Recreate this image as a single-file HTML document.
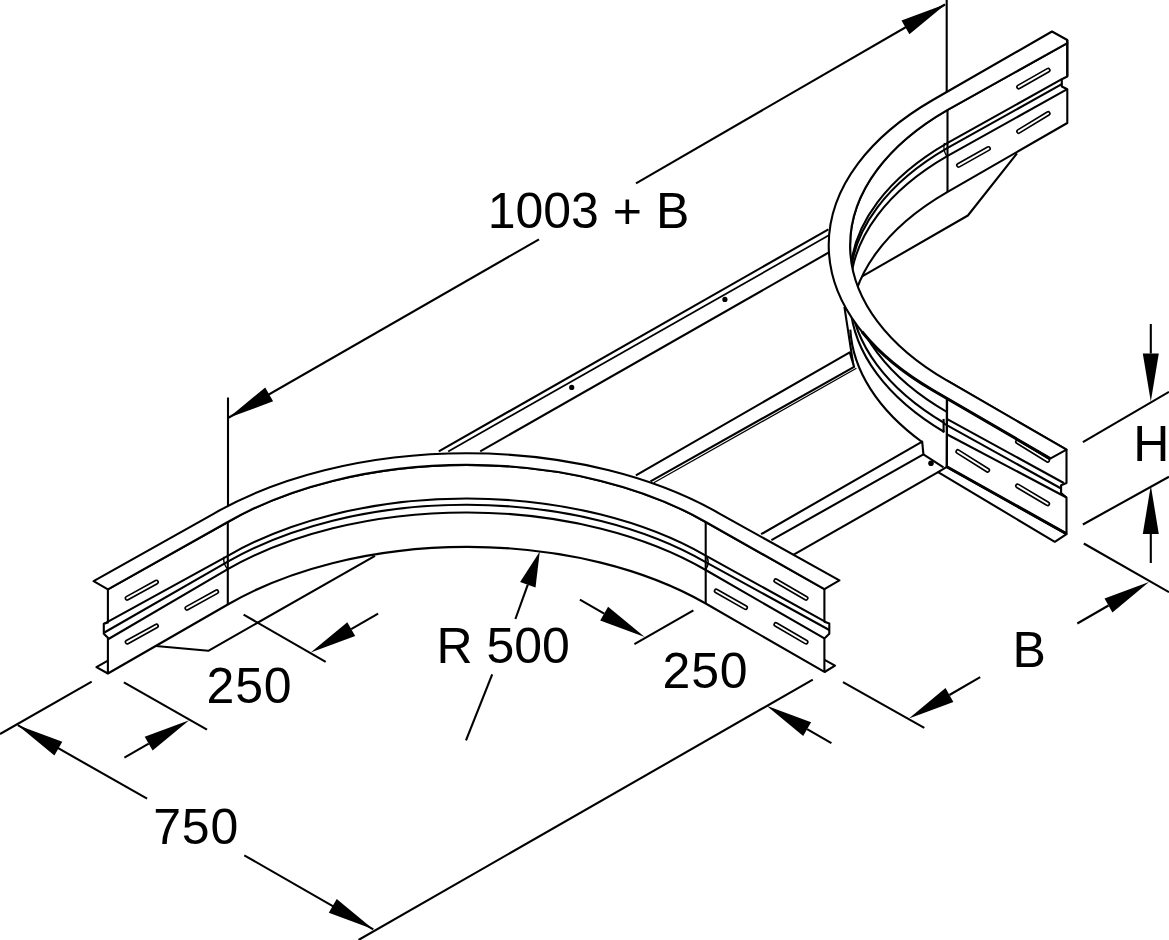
<!DOCTYPE html>
<html><head><meta charset="utf-8"><title>Drawing</title>
<style>html,body{margin:0;padding:0;background:#fff}svg{display:block}
text{font-family:"Liberation Sans",sans-serif;fill:#000;stroke:none}</style></head>
<body><svg width="1169" height="940" viewBox="0 0 1169 940">
<rect width="1169" height="940" fill="#fff"/>
<g fill="none" stroke="#000" stroke-width="2.1" stroke-linecap="butt" stroke-linejoin="round">
<path d="M228 397.5L228 603"/>
<path d="M946.7 0L946.7 192"/>
<path d="M228 418L539 239.3"/>
<path d="M636 183.3L945 4.5"/>
<path d="M228.6 417.8L265.2 387.5L273.1 401.3Z" fill="#000" stroke="none"/>
<path d="M946 4L909.4 34.3L901.5 20.5Z" fill="#000" stroke="none"/>
<path d="M91.7 681.7L0 734"/>
<path d="M812.8 679.6L358.5 940"/>
<path d="M17.8 725.2L147.1 798.7"/>
<path d="M244.3 855.3L373.3 929.3"/>
<path d="M17.8 725.2L62.3 741.7L54.4 755.5Z" fill="#000" stroke="none"/>
<path d="M373.3 929.3L328.8 912.8L336.7 899Z" fill="#000" stroke="none"/>
<path d="M123.9 682.4L207 729.6"/>
<path d="M189.2 720.3L152.6 750.6L144.7 736.8Z" fill="#000" stroke="none"/>
<path d="M148.7 743.7L124.4 757.7"/>
<path d="M243.6 614.6L325.7 661.9"/>
<path d="M310.7 652.6L347.3 622.3L355.2 636.1Z" fill="#000" stroke="none"/>
<path d="M351.2 629.2L378.1 613.7"/>
<path d="M539.8 551.5L535.5 587.5L520.1 581.9Z" fill="#000" stroke="none"/>
<path d="M527.8 584.7L515.4 619"/>
<path d="M492.2 674.3L466 740.3"/>
<path d="M843 682.1L924.3 727.9"/>
<path d="M908.9 718.4L945.5 688.1L953.4 701.9Z" fill="#000" stroke="none"/>
<path d="M949.4 695L980.2 677.2"/>
<path d="M1083.8 543.5L1169 592.2"/>
<path d="M1149 582.1L1112.4 612.4L1104.5 598.6Z" fill="#000" stroke="none"/>
<path d="M1108.5 605.5L1077.3 623.5"/>
<path d="M766.6 705.7L811.1 722.2L803.2 736Z" fill="#000" stroke="none"/>
<path d="M807.1 729.1L831.4 743.1"/>
<path d="M644.7 637L600.2 620.5L608.1 606.7Z" fill="#000" stroke="none"/>
<path d="M604.2 613.6L579.9 599.6"/>
<path d="M693.4 610.3L634.4 644.2"/>
<path d="M1082.9 442.1L1169 391.8"/>
<path d="M1082.9 524.5L1169 476.7"/>
<path d="M1150.8 401.5L1142.8 353.5L1158.8 353.5Z" fill="#000" stroke="none"/>
<path d="M1150.8 353.5L1150.8 324"/>
<path d="M1150.8 485.5L1158.8 534L1142.8 534Z" fill="#000" stroke="none"/>
<path d="M1150.8 534L1150.8 563"/>
<path d="M438.8 451.4L828.4 229.4"/>
<path d="M448.2 451.4L830.2 234.6" stroke-width="1.7"/>
<path d="M480.2 451.4L828.4 252.7"/>
<circle cx="571.7" cy="387.4" r="2.6" fill="#000" stroke="none"/>
<circle cx="724.9" cy="299.4" r="2.6" fill="#000" stroke="none"/>
<path d="M1017 153.4L967.9 215.5L861.7 276.7"/>
<path d="M1067.3 43.2L947.2 110.1L947.2 110.1A331.4 191.3 0 0 0 850.1 245.4L850.1 327.4L850.1 327.4A331.4 191.3 0 0 1 947.2 192.1L1067.3 123L1067.3 89.2L1061.8 86.5L1061.8 79.2L1067.3 76.5Z" fill="#fff"/>
<path d="M1061.8 79.2L947.2 143.1L947.2 143.1A331.4 191.3 0 0 0 850.3 271.7"/>
<path d="M1061.8 84.2L947.2 148.1L947.2 148.1A331.4 191.3 0 0 0 850.3 276.7"/>
<path d="M1067.3 89.2L947.2 156.1L947.2 156.1A331.4 191.3 0 0 0 850.3 284.7"/>
<path d="M844.4 306.8L853.3 364.9L850.6 332.9A331.4 191.3 0 0 0 947.2 458.2L946.8 466.8L946.8 398L932.8 390.2A355.4 205.2 0 0 1 836.5 287.8Z" fill="#fff" stroke="none"/>
<path d="M844.4 306.8L853.3 364.9"/>
<path d="M850.3 329.6A331.4 191.3 0 0 0 922.1 442"/>
<path d="M850.3 283.6A331.4 191.3 0 0 0 947.2 412.2"/>
<path d="M850.3 296.1A331.4 191.3 0 0 0 944.3 423"/>
<path d="M850.3 305.1A331.4 191.3 0 0 0 944.3 432"/>
<path d="M938.1 472.2L1054.8 541.8L1066.5 534.2L946.8 466.8Z" fill="#fff"/>
<path d="M947.2 380.7L1066.5 449.6L1066.5 483L1061.1 485.2L1061.1 493L1066.5 497.5L1066.5 533.7L946.8 466.8Z" fill="#fff"/>
<path d="M946.8 466.8L1066.5 533.7" stroke-width="3"/>
<path d="M946.8 418.9L1063.8 483"/>
<path d="M943.6 423.4L1061.1 488.5"/>
<path d="M946.8 434.2L1066.5 497.5"/>
<path d="M943.6 418.9L943.6 432.4"/>
<path d="M1017.6 485.9L1047.6 503.8" stroke-width="5.2" stroke-linecap="round"/>
<path d="M1017.6 485.9L1047.6 503.8" stroke="#fff" stroke-width="1.9" stroke-linecap="round"/>
<path d="M957.9 451.6L987.6 470.2" stroke-width="5.2" stroke-linecap="round"/>
<path d="M957.9 451.6L987.6 470.2" stroke="#fff" stroke-width="1.9" stroke-linecap="round"/>
<path d="M1017.6 441.7L1047.6 460.3" stroke-width="5.2" stroke-linecap="round"/>
<path d="M1017.6 441.7L1047.6 460.3" stroke="#fff" stroke-width="1.9" stroke-linecap="round"/>
<path d="M635.9 475.4L849.7 352.3L854.1 366.9L650.5 481.4" fill="#fff"/>
<path d="M653.8 482.8L856.4 368.3" stroke-width="1.3"/>
<path d="M761.1 534.2L922.2 441.7L923.4 454.4L771.4 540.2" fill="#fff"/>
<path d="M923.4 454.4L943.5 467.4"/>
<path d="M793.7 554.7L938.1 472.2"/>
<circle cx="931" cy="463.3" r="2.8" fill="#000" stroke="none"/>
<path d="M1052 31.5L932.8 100L932.8 100A355.4 205.2 0 0 0 932.8 390.2L1050.2 458.6L1066.5 449.6L947.2 380.7L947.2 380.7A331.4 191.3 0 0 1 947.2 110.1L1067.3 43.2L1067.3 40Z" fill="#fff"/>
<path d="M1067.3 40L1067.3 76.5"/>
<path d="M862 331.8A355.4 205.2 0 0 0 932.8 390.2L1050.2 458.6" stroke-width="3"/>
<path d="M947.5 110.1L947.5 192"/>
<path d="M946.8 398L946.8 466.8"/>
<path d="M944.5 143Q942.5 150 947 156.5" stroke-width="1.4"/>
<path d="M1018.7 86.9L1048.1 70.2" stroke-width="5.2" stroke-linecap="round"/>
<path d="M1018.7 86.9L1048.1 70.2" stroke="#fff" stroke-width="1.9" stroke-linecap="round"/>
<path d="M1018.7 131.4L1048.1 113.5" stroke-width="5.2" stroke-linecap="round"/>
<path d="M1018.7 131.4L1048.1 113.5" stroke="#fff" stroke-width="1.9" stroke-linecap="round"/>
<path d="M958.6 165.3L988.4 148.6" stroke-width="5.2" stroke-linecap="round"/>
<path d="M958.6 165.3L988.4 148.6" stroke="#fff" stroke-width="1.9" stroke-linecap="round"/>
<path d="M155.8 646L208.3 650.8L375 555.8"/>
<path d="M107.9 673.5L96.4 667.1L107.9 660.6" fill="#fff"/>
<path d="M824.6 672L835 665.6L824.6 659.8" fill="#fff"/>
<path d="M107.9 589.3L227.8 522A337.9 195.1 0 0 1 705.7 522L824.4 589.1L824.4 589.1L824.4 621.7L829.3 623.5L829.3 633.8L824.4 638.4L824.4 671.9L824.4 671.9L705.7 603.5A337.9 195.1 0 0 0 227.8 604.5L107.9 673.5L107.9 673.5L107.9 637.8L103.8 633.7L103.8 623.8L107.9 622.6L107.9 589.3Z" fill="#fff"/>
<path d="M104.4 623.6L227.8 555.8A337.9 195.1 0 0 1 705.7 555.6L826 622.2"/>
<path d="M104.4 632.5L227.8 561.7A337.9 195.1 0 0 1 705.7 562.1L829.3 630"/>
<path d="M108.5 639L227.8 569.2A337.9 195.1 0 0 1 705.7 570L824.4 638.4"/>
<path d="M93.6 581.1L213.5 513.8A358.1 206.7 0 0 1 719.9 513.8L839.4 580.4L824.4 589.1L824.4 589.1L705.7 522A337.9 195.1 0 0 0 227.8 522L107.9 589.3Z" fill="#fff"/>
<path d="M227.8 522L227.8 604.5"/>
<path d="M705.7 522L705.7 603.5"/>
<path d="M224.2 556.7Q222.5 562.5 227.5 569.2" stroke-width="1.4"/>
<path d="M706 556Q710.5 562 706 569" stroke-width="1.4"/>
<path d="M127.2 598.2L156.4 582.1" stroke-width="5.2" stroke-linecap="round"/>
<path d="M127.2 598.2L156.4 582.1" stroke="#fff" stroke-width="1.9" stroke-linecap="round"/>
<path d="M127.2 642.1L156.4 626" stroke-width="5.2" stroke-linecap="round"/>
<path d="M127.2 642.1L156.4 626" stroke="#fff" stroke-width="1.9" stroke-linecap="round"/>
<path d="M187 608.2L216.6 591.8" stroke-width="5.2" stroke-linecap="round"/>
<path d="M187 608.2L216.6 591.8" stroke="#fff" stroke-width="1.9" stroke-linecap="round"/>
<path d="M775.9 580.8L806 598.3" stroke-width="5.2" stroke-linecap="round"/>
<path d="M775.9 580.8L806 598.3" stroke="#fff" stroke-width="1.9" stroke-linecap="round"/>
<path d="M775.9 624.5L806 642.1" stroke-width="5.2" stroke-linecap="round"/>
<path d="M775.9 624.5L806 642.1" stroke="#fff" stroke-width="1.9" stroke-linecap="round"/>
<path d="M716.3 591L745.5 607.6" stroke-width="5.2" stroke-linecap="round"/>
<path d="M716.3 591L745.5 607.6" stroke="#fff" stroke-width="1.9" stroke-linecap="round"/>
</g>
<text x="487.7" y="228" font-size="50">1003 + B</text>
<text x="206.6" y="703" font-size="50" letter-spacing="0.8">250</text>
<text x="153.2" y="844" font-size="50" letter-spacing="0.8">750</text>
<text x="436.5" y="663.3" font-size="50">R 500</text>
<text x="662.6" y="688.3" font-size="50" letter-spacing="0.8">250</text>
<text x="1012.5" y="667" font-size="50">B</text>
<text x="1133.2" y="461" font-size="50">H</text>
</svg></body></html>
